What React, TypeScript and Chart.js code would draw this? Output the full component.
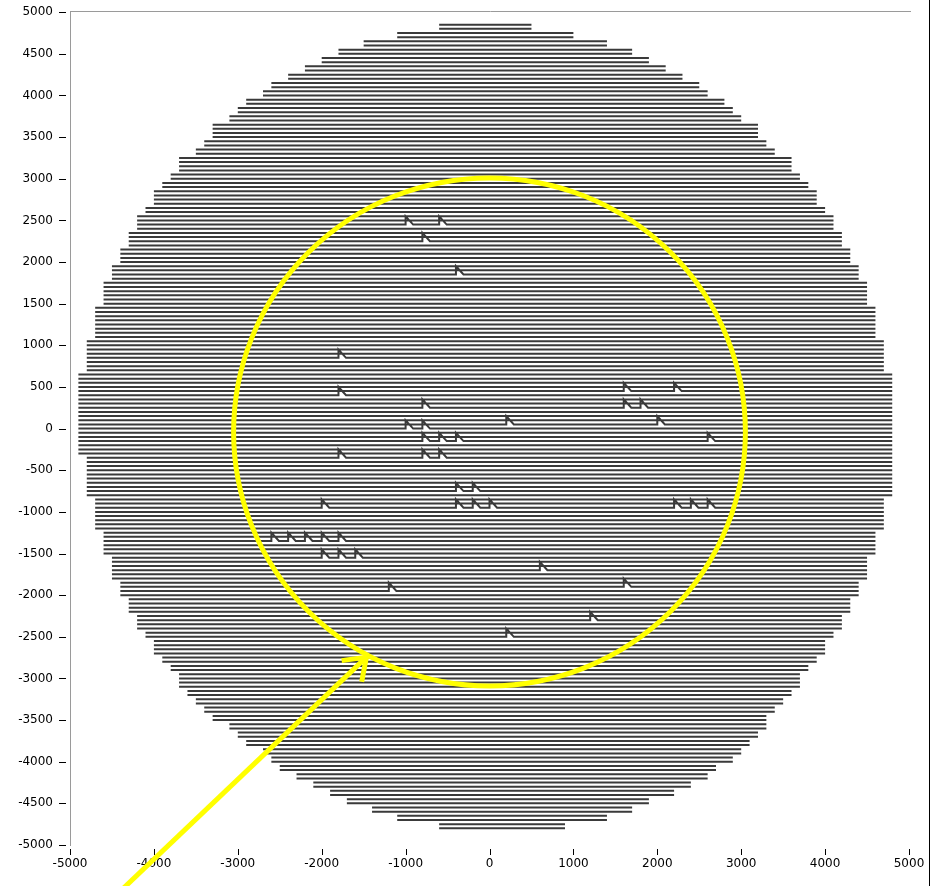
import { useEffect, useRef } from 'react';
import { Chart, registerables } from 'chart.js';

Chart.register(...registerables);

// ---- axis ticks ----
const xTicks = [-5000, -4000, -3000, -2000, -1000, 0, 1000, 2000, 3000, 4000, 5000];
const yTicks = [-5000, -4500, -4000, -3500, -3000, -2500, -2000, -1500, -1000, -500, 0, 500, 1000, 1500, 2000, 2500, 3000, 3500, 4000, 4500, 5000];

// ---- scan bands: each band holds two scan passes (top line and 50 below) ----
const bandTopY = [4850, 4750, 4650, 4550, 4450, 4350, 4250, 4150, 4050, 3950, 3850, 3750, 3650, 3550, 3450, 3350, 3250, 3150, 3050, 2950, 2850, 2750, 2650, 2550, 2450, 2350, 2250, 2150, 2050, 1950, 1850, 1750, 1650, 1550, 1450, 1350, 1250, 1150, 1050, 950, 850, 750, 650, 550, 450, 350, 250, 150, 50, -50, -150, -250, -350, -450, -550, -650, -750, -850, -950, -1050, -1150, -1250, -1350, -1450, -1550, -1650, -1750, -1850, -1950, -2050, -2150, -2250, -2350, -2450, -2550, -2650, -2750, -2850, -2950, -3050, -3150, -3250, -3350, -3450, -3550, -3650, -3750, -3850, -3950, -4050, -4150, -4250, -4350, -4450, -4550, -4650, -4750];
const bandLeft = [-600, -1100, -1500, -1800, -2000, -2200, -2400, -2600, -2700, -2900,
  -3000, -3100, -3300, -3300, -3400, -3500, -3700, -3700, -3800, -3900,
  -4000, -4000, -4100, -4200, -4200, -4300, -4300, -4400, -4400, -4500,
  -4500, -4600, -4600, -4600, -4700, -4700, -4700, -4700, -4800, -4800,
  -4800, -4800, -4900, -4900, -4900, -4900, -4900, -4900, -4900, -4900,
  -4900, -4900, -4800, -4800, -4800, -4800, -4800, -4700, -4700, -4700,
  -4700, -4600, -4600, -4600, -4500, -4500, -4500, -4400, -4400, -4300,
  -4300, -4200, -4200, -4100, -4000, -4000, -3900, -3800, -3700, -3700,
  -3600, -3500, -3400, -3300, -3100, -3000, -2900, -2700, -2600, -2500,
  -2300, -2100, -1900, -1700, -1400, -1100, -600];
const bandRight = [500, 1000, 1400, 1700, 1900, 2100, 2300, 2500, 2600, 2800,
  2900, 3000, 3200, 3200, 3300, 3400, 3600, 3600, 3700, 3800,
  3900, 3900, 4000, 4100, 4100, 4200, 4200, 4300, 4300, 4400,
  4400, 4500, 4500, 4500, 4600, 4600, 4600, 4600, 4700, 4700,
  4700, 4700, 4800, 4800, 4800, 4800, 4800, 4800, 4800, 4800,
  4800, 4800, 4800, 4800, 4800, 4800, 4800, 4700, 4700, 4700,
  4700, 4600, 4600, 4600, 4500, 4500, 4500, 4400, 4400, 4300,
  4300, 4200, 4200, 4100, 4000, 4000, 3900, 3800, 3700, 3700,
  3600, 3500, 3400, 3300, 3300, 3200, 3100, 3000, 2900, 2700,
  2600, 2400, 2200, 1900, 1700, 1400, 900];
const passOffsets = [0, -50];

// ---- spikes (defects) on scan lines: x position and row ----
const spikeX = [-1000, -600, -800, -400, -1800, -1800, -800, -1000, -800, 200,
  1600, 2200, 1600, 1800, 2000, 2600, -800, -600, -400, -800,
  -600, -1800, -400, -200, -400, -200, 0, -2000, 2200, 2400,
  2600, -2600, -2400, -2200, -2000, -1800, -2000, -1800, -1600, -1200,
  600, 1600, 1200, 200];
const spikeRow = [2450, 2450, 2250, 1850, 850, 400, 250, 0, 0, 50,
  450, 450, 250, 250, 50, -150, -150, -150, -150, -350,
  -350, -350, -750, -750, -950, -950, -950, -950, -950, -950,
  -950, -1350, -1350, -1350, -1350, -1350, -1550, -1550, -1550, -1950,
  -1700, -1900, -2300, -2500];
const spikeHeight = 100;
const spikeWidth = 90;

// ---- yellow annotation (data units) ----
const ringCenter = [0, -40];
const ringRadius = 3050;
const arrowTip = [-1467, -2744];
const arrowTail = [-4500, -5650];

const LINE_COLOR = '#3a3a3a';
const AXIS_GRAY = '#9a9a9a';
const YELLOW = '#ffff00';
const FONT = { family: 'DejaVu Sans', size: 12 };

function buildScanPoints() {
  const pts: { x: number; y: number | null }[] = [];
  for (let i = 0; i < bandTopY.length; i++) {
    for (const off of passOffsets) {
      const y = bandTopY[i] + off;
      pts.push({ x: bandLeft[i], y });
      const xs: number[] = [];
      for (let s = 0; s < spikeX.length; s++) if (spikeRow[s] === y) xs.push(spikeX[s]);
      xs.sort((a, b) => a - b);
      for (const sx of xs) {
        pts.push({ x: sx, y });
        pts.push({ x: sx, y: y + spikeHeight });
        pts.push({ x: sx + spikeWidth, y });
      }
      pts.push({ x: bandRight[i], y });
      pts.push({ x: bandRight[i], y: null });
    }
  }
  return pts;
}

const decorPlugin = {
  id: 'decor',
  afterDraw(chart: any) {
    const { ctx, chartArea: a, scales } = chart;
    const xs = scales.x;
    const ys = scales.y;
    ctx.save();
    // top frame line
    ctx.strokeStyle = AXIS_GRAY;
    ctx.lineWidth = 1;
    ctx.beginPath();
    ctx.moveTo(a.left, Math.round(a.top) - 0.5);
    ctx.lineTo(a.right + 2, Math.round(a.top) - 0.5);
    ctx.stroke();
    // right window edge
    ctx.strokeStyle = '#000';
    ctx.beginPath();
    ctx.moveTo(929.5, 0);
    ctx.lineTo(929.5, chart.height);
    ctx.stroke();
    // tick marks (detached from the axes)
    ctx.beginPath();
    for (const v of yTicks) {
      const py = Math.round(ys.getPixelForValue(v)) + 0.5;
      ctx.moveTo(a.left - 11, py);
      ctx.lineTo(a.left - 4, py);
    }
    for (const v of xTicks) {
      const px = Math.round(xs.getPixelForValue(v)) + 0.5;
      ctx.moveTo(px, a.bottom + 4);
      ctx.lineTo(px, a.bottom + 10);
    }
    ctx.stroke();
    // yellow ring
    const cx = xs.getPixelForValue(ringCenter[0]);
    const cy = ys.getPixelForValue(ringCenter[1]);
    const rx = Math.abs(xs.getPixelForValue(ringCenter[0] + ringRadius) - cx);
    const ry = Math.abs(ys.getPixelForValue(ringCenter[1] + ringRadius) - cy);
    ctx.strokeStyle = YELLOW;
    ctx.lineWidth = 5;
    ctx.beginPath();
    ctx.ellipse(cx, cy, rx, ry, 0, 0, Math.PI * 2);
    ctx.stroke();
    // yellow arrow
    const tx = xs.getPixelForValue(arrowTip[0]);
    const ty = ys.getPixelForValue(arrowTip[1]);
    const bx = xs.getPixelForValue(arrowTail[0]);
    const by = ys.getPixelForValue(arrowTail[1]);
    ctx.lineCap = 'butt';
    ctx.lineJoin = 'miter';
    ctx.beginPath();
    ctx.moveTo(bx, by);
    ctx.lineTo(tx, ty);
    ctx.stroke();
    const ang = Math.atan2(by - ty, bx - tx);
    const head = 25;
    ctx.beginPath();
    ctx.moveTo(tx + head * Math.cos(ang - 0.62), ty + head * Math.sin(ang - 0.62));
    ctx.lineTo(tx, ty);
    ctx.lineTo(tx + head * Math.cos(ang + 0.62), ty + head * Math.sin(ang + 0.62));
    ctx.stroke();
    ctx.restore();
  },
};

export default function App() {
  const ref = useRef<HTMLCanvasElement | null>(null);
  useEffect(() => {
    document.body.style.margin = '0';
    const canvas = ref.current;
    if (!canvas) return;
    const chart = new Chart(canvas, {
      type: 'line',
      data: {
        datasets: [
          {
            data: buildScanPoints() as any,
            borderColor: LINE_COLOR,
            borderWidth: 2,
            pointRadius: 0,
            pointHoverRadius: 0,
            spanGaps: false,
            fill: false,
            tension: 0,
          },
        ],
      },
      options: {
        animation: false,
        responsive: false,
        events: [],
        layout: { padding: { left: 0, right: 27, top: 12, bottom: 0 } },
        plugins: { legend: { display: false }, tooltip: { enabled: false } },
        scales: {
          x: {
            type: 'linear',
            position: 'bottom',
            min: -5000,
            max: 5000,
            afterBuildTicks: (s: any) => {
              s.ticks = xTicks.map((v) => ({ value: v }));
            },
            afterFit: (s: any) => {
              s.height = 41;
            },
            grid: { display: false, drawTicks: true, tickLength: 10 },
            border: { display: false },
            ticks: { color: '#000', font: FONT, padding: 2, maxRotation: 0, autoSkip: false, callback: (v: any) => String(v) },
          },
          y: {
            type: 'linear',
            min: -5000,
            max: 5000,
            afterBuildTicks: (s: any) => {
              s.ticks = yTicks.map((v) => ({ value: v }));
            },
            afterFit: (s: any) => {
              s.width = 70;
            },
            grid: { display: false, drawTicks: true, tickLength: 12 },
            border: { display: true, color: AXIS_GRAY, width: 1 },
            ticks: { color: '#000', font: FONT, padding: 5, autoSkip: false, callback: (v: any) => String(v) },
          },
        },
      },
      plugins: [decorPlugin],
    });
    return () => chart.destroy();
  }, []);
  return (
    <div style={{ position: 'fixed', left: 0, top: 0, width: 936, height: 886, background: '#fff' }}>
      <canvas ref={ref} width={936} height={886} style={{ display: 'block' }} />
    </div>
  );
}
